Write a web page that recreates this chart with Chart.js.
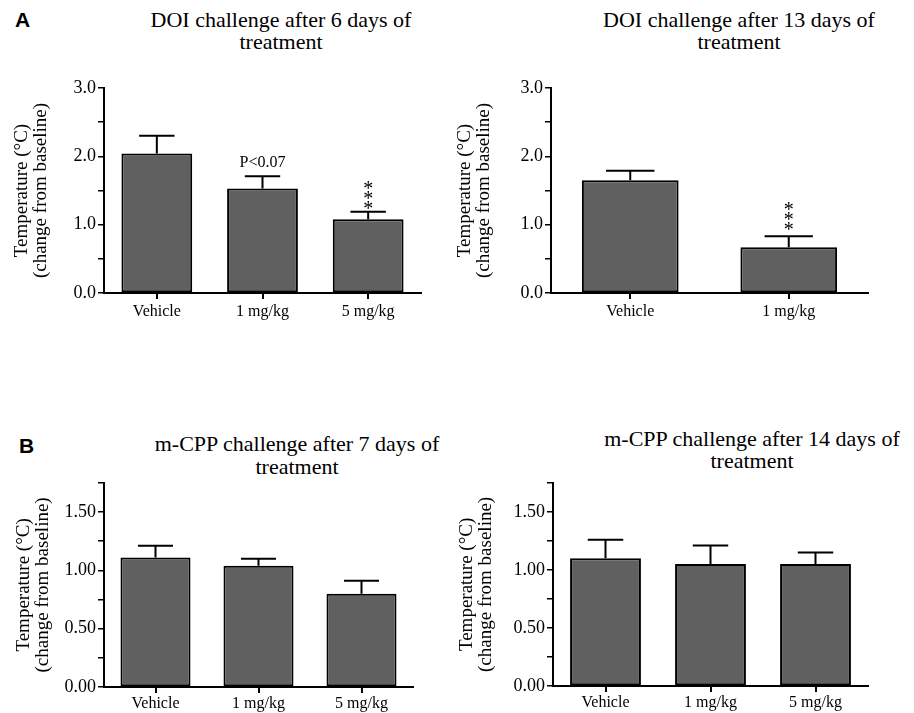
<!DOCTYPE html>
<html lang="en">
<head>
<meta charset="UTF-8">
<title>DOI and m-CPP challenge</title>
<script src="https://cdn.jsdelivr.net/npm/chart.js"></script>
<style>
  body { margin: 0; background: #fff; }
  #page { position: relative; width: 914px; height: 713px; overflow: hidden; font-family: 'Liberation Serif', serif; color: #000; }
  canvas { position: absolute; }
  .title { position: absolute; width: 420px; text-align: center; font-size: 22px; line-height: 22px; white-space: nowrap; }
  .letter { position: absolute; font-family: 'Liberation Sans', Arial, sans-serif; font-weight: bold; font-size: 21px; line-height: 21px; }
</style>
</head>
<body>
<div id="page">
  <div class="letter" style="left:15px; top:9px;">A</div>
  <div class="letter" style="left:19px; top:435px;">B</div>

  <div class="title" style="left:71px; top:9px;">DOI challenge after 6 days of<br>treatment</div>
  <div class="title" style="left:529px; top:9px;">DOI challenge after 13 days of<br>treatment</div>
  <div class="title" style="left:87px; top:432px; line-height:23px;">m-CPP challenge after 7 days of<br>treatment</div>
  <div class="title" style="left:542px; top:428px;">m-CPP challenge after 14 days of<br>treatment</div>

  <canvas id="doi6" width="440" height="270" style="left:0; top:60px;"></canvas>
  <canvas id="doi13" width="440" height="270" style="left:445px; top:60px;"></canvas>
  <canvas id="mcpp7" width="440" height="243" style="left:0; top:470px;"></canvas>
  <canvas id="mcpp14" width="440" height="243" style="left:445px; top:470px;"></canvas>
</div>

<script>
  // values (mean and upper error, °C change from baseline)
  const doseLabels = ['Vehicle', '1 mg/kg', '5 mg/kg'];
  const doi13Labels = ['Vehicle', '1 mg/kg'];

  const doi6Mean = [2.04, 1.53, 1.08];
  const doi6Err = [0.26, 0.18, 0.11];

  const doi13Mean = [1.65, 0.67];
  const doi13Err = [0.14, 0.16];

  const mcpp7Mean = [1.11, 1.04, 0.80];
  const mcpp7Err = [0.10, 0.06, 0.11];

  const mcpp14Mean = [1.10, 1.05, 1.05];
  const mcpp14Err = [0.16, 0.16, 0.10];

  const doiAxis = { max: 3.0, step: 0.5, every: 1.0, decimals: 1 };
  const mcppAxis = { max: 1.75, step: 0.25, every: 0.5, decimals: 2 };

  const yTitle = ['Temperature (°C)', '(change from baseline)'];
  const serif = "'Liberation Serif', 'Times New Roman', serif";
  const barFill = '#606060';

  // upper error bars plus the significance marks
  const errorBars = {
    id: 'errorBars',
    afterDatasetsDraw(chart, args, opts) {
      const ctx = chart.ctx;
      const y = chart.scales.y;
      const ds = chart.data.datasets[0];
      const meta = chart.getDatasetMeta(0);
      const tops = [];
      ctx.save();
      ctx.strokeStyle = '#000';
      ctx.lineWidth = 2;
      meta.data.forEach((bar, i) => {
        const top = y.getPixelForValue(ds.data[i] + ds.err[i]);
        tops.push(top);
        const half = bar.width / 4;
        ctx.beginPath();
        ctx.moveTo(bar.x, bar.y);
        ctx.lineTo(bar.x, top);
        ctx.moveTo(bar.x - half, top);
        ctx.lineTo(bar.x + half, top);
        ctx.stroke();
      });

      ctx.fillStyle = '#000';
      ctx.textAlign = 'center';
      (opts.notes || []).forEach(n => {
        const x = meta.data[n.index].x;
        const top = tops[n.index];
        if (n.stars) {
          ctx.font = '20px ' + serif;
          ctx.textBaseline = 'alphabetic';
          for (let k = 0; k < n.stars; k++) {
            const cy = top - n.gap - k * 10;
            ctx.fillText('*', x, cy + 11);
          }
        } else {
          ctx.font = '16px ' + serif;
          ctx.textBaseline = 'middle';
          ctx.fillText(n.text, x, top - n.gap);
        }
      });
      ctx.restore();
    }
  };

  function makePanel(id, labels, mean, err, axis, lay) {
    return new Chart(document.getElementById(id), {
      type: 'bar',
      data: {
        labels: labels,
        datasets: [{
          data: mean,
          err: err,
          backgroundColor: barFill,
          borderColor: '#000',
          borderWidth: 2,
          borderSkipped: false,
          barPercentage: lay.barPct,
          categoryPercentage: 1
        }]
      },
      options: {
        responsive: false,
        animation: false,
        devicePixelRatio: 1,
        layout: { padding: lay.padding },
        plugins: {
          legend: { display: false },
          tooltip: { enabled: false },
          errorBars: { notes: lay.notes || [] }
        },
        scales: {
          x: {
            offset: true,
            grid: { offset: false, drawOnChartArea: false, drawTicks: true, tickLength: 6, color: '#000', lineWidth: 2 },
            border: { color: '#000', width: 2 },
            ticks: { color: '#000', font: { family: serif, size: 16 }, padding: lay.xPad },
            afterFit: s => { s.height = lay.xHeight; }
          },
          y: {
            min: 0,
            max: axis.max,
            grid: { drawOnChartArea: false, drawTicks: true, tickLength: 6, color: '#000', lineWidth: 1.5 },
            border: { color: '#000', width: 2 },
            ticks: {
              stepSize: axis.step,
              autoSkip: false,
              color: '#000',
              padding: 2,
              font: { family: serif, size: 18 },
              callback: v => {
                const r = v / axis.every;
                return Math.abs(r - Math.round(r)) < 1e-6 ? v.toFixed(axis.decimals) : '';
              }
            },
            title: {
              display: true,
              text: yTitle,
              color: '#000',
              font: { family: serif, size: 19, lineHeight: 1.03 },
              padding: { top: lay.titlePad, bottom: 0 }
            },
            afterFit: s => { s.width = lay.yWidth; }
          }
        }
      },
      plugins: [errorBars]
    });
  }

  makePanel('doi6', doseLabels, doi6Mean, doi6Err, doiAxis, {
    barPct: 0.67, padding: { left: 0, top: 28, right: 19, bottom: 0 },
    yWidth: 104, xHeight: 37, xPad: 3, titlePad: 12,
    notes: [{ index: 1, text: 'P<0.07', gap: 13 }, { index: 2, stars: 3, gap: 8 }]
  });

  makePanel('doi13', doi13Labels, doi13Mean, doi13Err, doiAxis, {
    barPct: 0.61, padding: { left: 0, top: 28, right: 17, bottom: 0 },
    yWidth: 106, xHeight: 37, xPad: 3, titlePad: 10,
    notes: [{ index: 1, stars: 3, gap: 11 }]
  });

  makePanel('mcpp7', doseLabels, mcpp7Mean, mcpp7Err, mcppAxis, {
    barPct: 0.68, padding: { left: 0, top: 12, right: 27, bottom: 0 },
    yWidth: 104, xHeight: 26, xPad: 1, titlePad: 14
  });

  makePanel('mcpp14', doseLabels, mcpp14Mean, mcpp14Err, mcppAxis, {
    barPct: 0.675, padding: { left: 0, top: 12, right: 17, bottom: 0 },
    yWidth: 108, xHeight: 27, xPad: 1, titlePad: 12
  });
</script>
</body>
</html>
